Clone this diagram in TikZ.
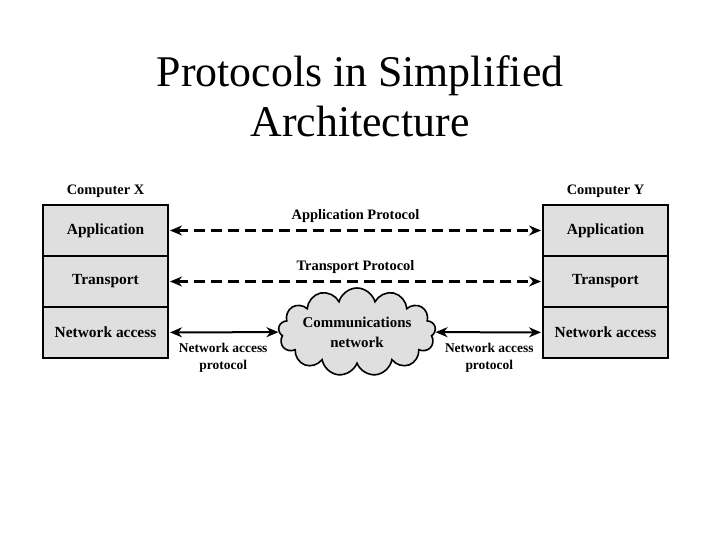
\documentclass[tikz,border=0pt]{standalone}
\usepackage{fontspec}
\setmainfont{Liberation Serif}
\usetikzlibrary{shapes,arrows.meta,positioning}

\begin{document}
\begin{tikzpicture}[x=1bp, y=-1bp,
  layer/.style={draw, rectangle, line width=1.8bp, fill=gray!25,
    minimum width=125bp, minimum height=51bp, outer sep=0pt,
    font=\fontsize{15.5}{18}\selectfont\bfseries},
  lbl/.style={font=\fontsize{14.5}{16}\selectfont\bfseries, align=center},
  dasharrow/.style={line width=2.4bp, dash pattern=on 11bp off 6bp,
    {Stealth[length=12bp,width=10bp]}-{Stealth[length=12bp,width=10bp]}},
  arrow/.style={line width=2bp,
    {Stealth[length=12bp,width=10bp]}-{Stealth[length=12bp,width=10bp]}}
]
  \useasboundingbox (0,0) rectangle (720,540);

  \node[font=\fontsize{44}{50}\selectfont, align=center] (title) at (360,96)
    {Protocols in Simplified\\Architecture};

  % computer X
  \node[layer] (appX) at (105.5,230.5) {Application};
  \node[layer, below=0pt of appX] (trnX) {Transport};
  \node[layer, below=0pt of trnX] (netX) {Network access};
  \node[lbl, above=4bp of appX] (compX) {Computer X};

  % computer Y
  \node[layer] (appY) at (605.5,230.5) {Application};
  \node[layer, below=0pt of appY] (trnY) {Transport};
  \node[layer, below=0pt of trnY] (netY) {Network access};
  \node[lbl, above=4bp of appY] (compY) {Computer Y};

  \node[cloud, cloud puffs=13, cloud ignores aspect, draw, line width=1.6bp,
    fill=gray!25, minimum width=150bp, minimum height=88bp, inner sep=0pt,
    font=\fontsize{15}{20}\selectfont\bfseries, align=center]
    (net) at (357,332) {Communications\\network};

  \draw[dasharrow, shorten <=2bp, shorten >=2bp] (appX) -- (appY)
    node[midway, above=3bp, lbl, solid] {Application Protocol};
  \draw[dasharrow, shorten <=2bp, shorten >=2bp] (trnX) -- (trnY)
    node[midway, above=3bp, lbl, solid] {Transport Protocol};

  \draw[arrow, shorten <=2bp] (netX) -- (net)
    node[midway, below=7bp, lbl, font=\fontsize{13.5}{17}\selectfont\bfseries] {Network access\\protocol};
  \draw[arrow, shorten >=2bp] (net) -- (netY)
    node[midway, below=7bp, lbl, font=\fontsize{13.5}{17}\selectfont\bfseries] {Network access\\protocol};
\end{tikzpicture}
\end{document}
